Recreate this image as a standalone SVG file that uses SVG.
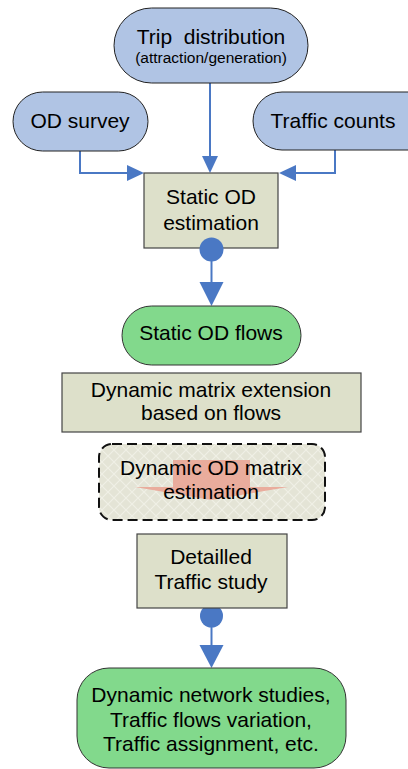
<svg xmlns="http://www.w3.org/2000/svg" width="408" height="769" viewBox="0 0 408 769">
<defs>
<style>
.blue{fill:#B0C4E4;stroke:#222;stroke-width:1}
.green{fill:#82D98C;stroke:#333;stroke-width:1}
.beige{fill:#DDE0CA;stroke:#444;stroke-width:1.2}
.t{font-family:"Liberation Sans",Arial,sans-serif;font-size:21px;fill:#000;text-anchor:middle}
.s{font-size:15.5px}
.conn{fill:none;stroke:#4A78C4;stroke-width:2}
.head{fill:#4A78C4}
</style>
<pattern id="hatch" width="12" height="12" patternUnits="userSpaceOnUse">
<rect width="12" height="12" fill="#E4E4D6"/>
<path d="M0 0 L12 12 M12 0 L0 12" stroke="#F0F0E6" stroke-width="1.2"/>
</pattern>
</defs>

<g id="connectors">
<path class="conn" d="M210 83 V158"/>
<polygon class="head" points="202,156 218,156 210,173"/>
<path class="conn" d="M80 151 V173 H130"/>
<polygon class="head" points="127,165 127,181 144,173"/>
<path class="conn" d="M335 150 V173 H295"/>
<polygon class="head" points="296,165 296,181 279,173"/>
<path class="conn" d="M211.5 255 V285"/>
<polygon class="head" points="199.5,282 223.5,282 211.5,306"/>
<circle class="head" cx="211.5" cy="616" r="11.5"/>
<path class="conn" d="M211.5 620 V648"/>
<polygon class="head" points="199.5,645 223.5,645 211.5,668"/>
</g>

<g id="trip-distribution">
<rect class="blue" x="114" y="8" width="194" height="75" rx="37.5"/>
<text class="t" x="211" y="44" xml:space="preserve">Trip  distribution</text>
<text class="t s" x="211" y="63">(attraction/generation)</text>
</g>

<g id="od-survey">
<rect class="blue" x="13" y="92" width="135" height="59" rx="29.5"/>
<text class="t" x="80" y="128">OD survey</text>
</g>

<g id="traffic-counts">
<rect class="blue" x="253" y="92" width="185" height="58" rx="29"/>
<text class="t" x="333" y="128">Traffic counts</text>
</g>

<g id="static-od-estimation">
<rect class="beige" x="144" y="173" width="134" height="75"/>
<text class="t" x="211" y="204">Static OD</text>
<text class="t" x="211" y="230">estimation</text>
<circle class="head" cx="211.5" cy="249.5" r="12"/>
</g>

<g id="static-od-flows">
<rect class="green" x="122" y="306" width="179" height="59" rx="29.5"/>
<text class="t" x="211" y="340">Static OD flows</text>
</g>

<g id="dynamic-matrix-extension">
<rect class="beige" x="62" y="373" width="299" height="59"/>
<text class="t" x="211" y="397">Dynamic matrix extension</text>
<text class="t" x="211" y="420">based on flows</text>
</g>

<g id="dynamic-od-matrix-estimation">
<rect x="99" y="444" width="226" height="76" rx="13" fill="url(#hatch)" stroke="#111" stroke-width="2" stroke-dasharray="10,5"/>
<polygon points="173,460 250,460 250,487 288,487 211,500 135,487 173,487" fill="#E9A596" opacity="0.9"/>
<text class="t" x="211" y="475">Dynamic OD matrix</text>
<text class="t" x="211" y="499">estimation</text>
</g>

<g id="detailled-traffic-study">
<rect class="beige" x="137" y="534" width="150" height="74"/>
<text class="t" x="211" y="564">Detailled</text>
<text class="t" x="211" y="589">Traffic study</text>
</g>

<g id="dynamic-network-studies">
<rect class="green" x="77" y="668" width="269" height="100" rx="32"/>
<text class="t" x="211" y="702">Dynamic network studies,</text>
<text class="t" x="211" y="727">Traffic flows variation,</text>
<text class="t" x="211" y="751">Traffic assignment, etc.</text>
</g>
</svg>
